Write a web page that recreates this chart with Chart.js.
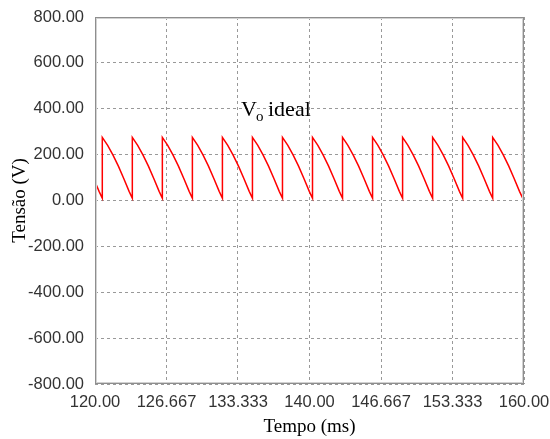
<!DOCTYPE html>
<html>
<head>
<meta charset="utf-8">
<script src="https://cdn.jsdelivr.net/npm/chart.js@4/dist/chart.umd.min.js"></script>
<style>
  html, body { margin: 0; padding: 0; background: #fff; }
  #wrap { width: 550px; height: 439px; }
</style>
</head>
<body>
<div id="wrap"><canvas id="graficoTensao" width="550" height="439"></canvas></div>
<script>
// tempo (ms) e tensão de saída (V)
const tempo = [
    120.00, 120.38,
    120.68, 120.68, 121.18, 121.68, 122.18, 122.68, 123.18,
    123.48, 123.48, 123.98, 124.48, 124.98, 125.48, 125.98,
    126.28, 126.28, 126.78, 127.28, 127.78, 128.28, 128.78,
    129.08, 129.08, 129.58, 130.08, 130.58, 131.08, 131.58,
    131.88, 131.88, 132.38, 132.88, 133.38, 133.88, 134.38,
    134.68, 134.68, 135.18, 135.68, 136.18, 136.68, 137.18,
    137.48, 137.48, 137.98, 138.48, 138.98, 139.48, 139.98,
    140.28, 140.28, 140.78, 141.28, 141.78, 142.28, 142.78,
    143.08, 143.08, 143.58, 144.08, 144.58, 145.08, 145.58,
    145.88, 145.88, 146.38, 146.88, 147.38, 147.88, 148.38,
    148.68, 148.68, 149.18, 149.68, 150.18, 150.68, 151.18,
    151.48, 151.48, 151.98, 152.48, 152.98, 153.48, 153.98,
    154.28, 154.28, 154.78, 155.28, 155.78, 156.28, 156.78,
    157.08, 157.08, 157.58, 158.08, 158.58, 159.08, 159.58,
    159.88, 159.88, 160.00
];
const tensao = [
    82, 40,
    10, 275, 240, 198, 150, 96, 40,
    10, 275, 240, 198, 150, 96, 40,
    10, 275, 240, 198, 150, 96, 40,
    10, 275, 240, 198, 150, 96, 40,
    10, 275, 240, 198, 150, 96, 40,
    10, 275, 240, 198, 150, 96, 40,
    10, 275, 240, 198, 150, 96, 40,
    10, 275, 240, 198, 150, 96, 40,
    10, 275, 240, 198, 150, 96, 40,
    10, 275, 240, 198, 150, 96, 40,
    10, 275, 240, 198, 150, 96, 40,
    10, 275, 240, 198, 150, 96, 40,
    10, 275, 240, 198, 150, 96, 40,
    10, 275, 240, 198, 150, 96, 40,
    10, 275, 266
];

const xTicks = [120, 126.667, 133.333, 140, 146.667, 153.333, 160];
const xTickLabels = ['120.00', '126.667', '133.333', '140.00', '146.667', '153.333', '160.00'];
const yTicks = [-800, -600, -400, -200, 0, 200, 400, 600, 800];
const yTickLabels = ['-800.00', '-600.00', '-400.00', '-200.00', '0.00', '200.00', '400.00', '600.00', '800.00'];

const fonteEixo = { family: 'Liberation Sans, Arial, sans-serif', size: 16.5 };
const fonteTitulo = { family: 'Liberation Serif, Times New Roman, serif', size: 19 };

// moldura cinza do gráfico
const moldura = {
    id: 'moldura',
    afterDraw(chart) {
        const { ctx, chartArea: a } = chart;
        ctx.save();
        ctx.lineWidth = 1;
        ctx.strokeStyle = '#d2d2d2';
        ctx.strokeRect(Math.round(a.left) + 1.5, Math.round(a.top) + 1.5,
            Math.round(a.right - a.left) - 3, Math.round(a.bottom - a.top) - 3);
        ctx.strokeStyle = '#8e8e8e';
        ctx.strokeRect(Math.round(a.left) + 0.5, Math.round(a.top) + 0.5,
            Math.round(a.right - a.left) - 1, Math.round(a.bottom - a.top) - 1);
        ctx.restore();
    }
};

// rótulo "Vo ideal"
const rotulo = {
    id: 'rotulo',
    afterDatasetsDraw(chart) {
        const ctx = chart.ctx;
        ctx.save();
        ctx.fillStyle = '#000';
        ctx.textBaseline = 'alphabetic';
        ctx.textAlign = 'left';
        ctx.font = '22px "Liberation Serif", "Times New Roman", serif';
        ctx.fillText('V', 241, 116);
        const wV = ctx.measureText('V').width;
        ctx.font = '15px "Liberation Serif", "Times New Roman", serif';
        ctx.fillText('o', 241 + wV - 1, 121);
        ctx.font = '22px "Liberation Serif", "Times New Roman", serif';
        ctx.fillText('ideal', 268, 116);
        ctx.restore();
    }
};

const ctxTensao = document.getElementById('graficoTensao').getContext('2d');
new Chart(ctxTensao, {
    type: 'line',
    data: {
        datasets: [{
            label: 'Vo ideal',
            data: tempo.map((t, i) => ({ x: t, y: tensao[i] })),
            borderColor: '#ff0000',
            borderWidth: 1.5,
            pointRadius: 0,
            tension: 0,
            fill: false
        }]
    },
    options: {
        responsive: false,
        animation: false,
        layout: { padding: { top: 17, right: 26, bottom: 0, left: 0 } },
        plugins: {
            legend: { display: false },
            tooltip: { enabled: false }
        },
        scales: {
            x: {
                type: 'linear',
                min: 120,
                max: 160,
                afterBuildTicks: (scale) => { scale.ticks = xTicks.map(v => ({ value: v })); },
                afterFit: (scale) => {
                    scale.height = 55;
                    scale.paddingLeft = 0;
                    scale.paddingRight = 0;
                },
                ticks: {
                    callback: (value, index) => xTickLabels[index],
                    font: fonteEixo,
                    color: '#333',
                    padding: 9,
                    maxRotation: 0,
                    autoSkip: false
                },
                grid: { color: '#999', lineWidth: 1, drawTicks: false },
                border: { display: false, dash: [3, 3] },
                title: {
                    display: true,
                    text: 'Tempo (ms)',
                    font: fonteTitulo,
                    color: '#000',
                    padding: { top: 0, bottom: 1 }
                }
            },
            y: {
                min: -800,
                max: 800,
                afterBuildTicks: (scale) => { scale.ticks = yTicks.map(v => ({ value: v })); },
                afterFit: (scale) => {
                    scale.width = 95;
                    scale.paddingTop = 0;
                    scale.paddingBottom = 0;
                },
                ticks: {
                    callback: (value, index) => yTickLabels[index],
                    font: fonteEixo,
                    color: '#333',
                    padding: 11
                },
                grid: { color: '#999', lineWidth: 1, drawTicks: false },
                border: { display: false, dash: [3, 3] },
                title: {
                    display: true,
                    text: 'Tensão (V)',
                    font: fonteTitulo,
                    color: '#000',
                    padding: { top: 9, bottom: 0 }
                }
            }
        }
    },
    plugins: [moldura, rotulo]
});
</script>
</body>
</html>
